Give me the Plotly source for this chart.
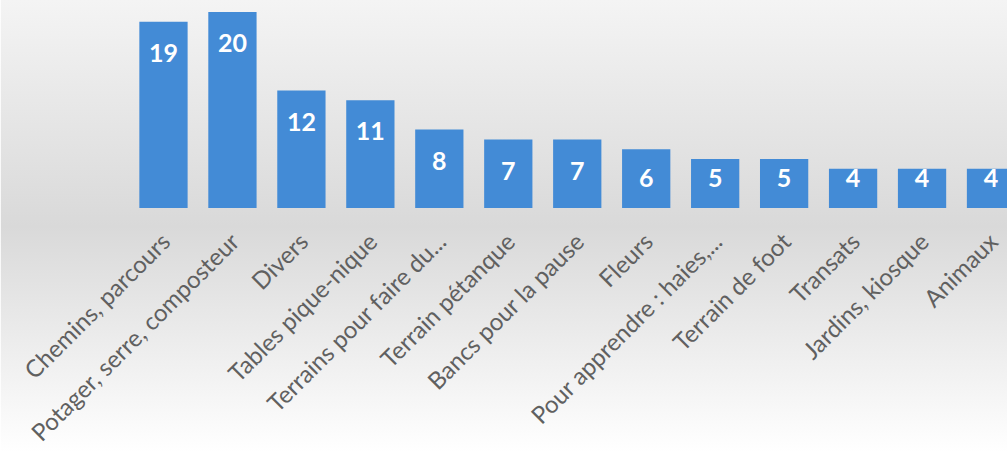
import base64
import plotly.graph_objects as go

categories = ["Chemins, parcours", "Potager, serre, composteur", "Divers",
              "Tables pique-nique", "Terrains pour faire du...", "Terrain pétanque",
              "Bancs pour la pause", "Fleurs", "Pour apprendre : haies,...",
              "Terrain de foot", "Transats", "Jardins, kiosque", "Animaux"]
values = [19, 20, 12, 11, 8, 7, 7, 6, 5, 5, 4, 4, 4]

W, H = 1007, 453
ML, MB, MT = 128.5, 245, 0
plot_w = W - ML
plot_h = H - MB - MT
px_per_unit = 9.8
ymax = plot_h / px_per_unit
step = 69.0
xmax = -0.5 + plot_w / step

# label positions: ~34px under the bar top, but no lower than ~27px above baseline
label_y = [max(v - 34 / px_per_unit, 27 / px_per_unit) for v in values]

svg = f'''<svg xmlns="http://www.w3.org/2000/svg" width="{W}" height="{H}" viewBox="0 0 {W} {H}" preserveAspectRatio="none">
<defs><linearGradient id="g" x1="0" y1="0" x2="0" y2="1">
<stop offset="0" stop-color="#f4f4f4"/>
<stop offset="0.5" stop-color="#d9d9d9"/>
<stop offset="1" stop-color="#ffffff"/>
</linearGradient></defs>
<rect width="{W}" height="{H}" fill="url(#g)"/></svg>'''
bg_uri = "data:image/svg+xml;base64," + base64.b64encode(svg.encode()).decode()

fig = go.Figure()
fig.add_trace(go.Bar(
    x=categories, y=values,
    marker=dict(color="#438bd6", line=dict(width=0)),
    hoverinfo="x+y",
))
fig.add_trace(go.Scatter(
    x=categories, y=label_y, mode="text",
    text=[str(v) for v in values],
    textposition="middle center",
    textfont=dict(family="Lato", size=25, color="white", weight="bold"),
    hoverinfo="skip",
))

fig.update_layout(
    width=W, height=H,
    margin=dict(l=ML, r=0, t=MT, b=MB, pad=0),
    paper_bgcolor="white",
    plot_bgcolor="rgba(0,0,0,0)",
    showlegend=False,
    bargap=0.3,
    images=[dict(source=bg_uri, xref="paper", yref="paper",
                 x=-ML / plot_w, y=1 + MT / plot_h,
                 sizex=W / plot_w, sizey=H / plot_h,
                 xanchor="left", yanchor="top", sizing="stretch",
                 layer="below")],
    xaxis=dict(range=[-0.5, xmax], tickangle=-45, showgrid=False,
               showline=False, zeroline=False, ticks="",
               ticklabelstandoff=14,
               tickfont=dict(family="Lato", size=24, color="#606060")),
    yaxis=dict(range=[0, ymax], visible=False, showgrid=False, zeroline=False),
)

fig.write_html("out.html",
               config={"displayModeBar": False},
               post_script="document.body.style.margin='0';document.body.style.overflow='hidden';")
